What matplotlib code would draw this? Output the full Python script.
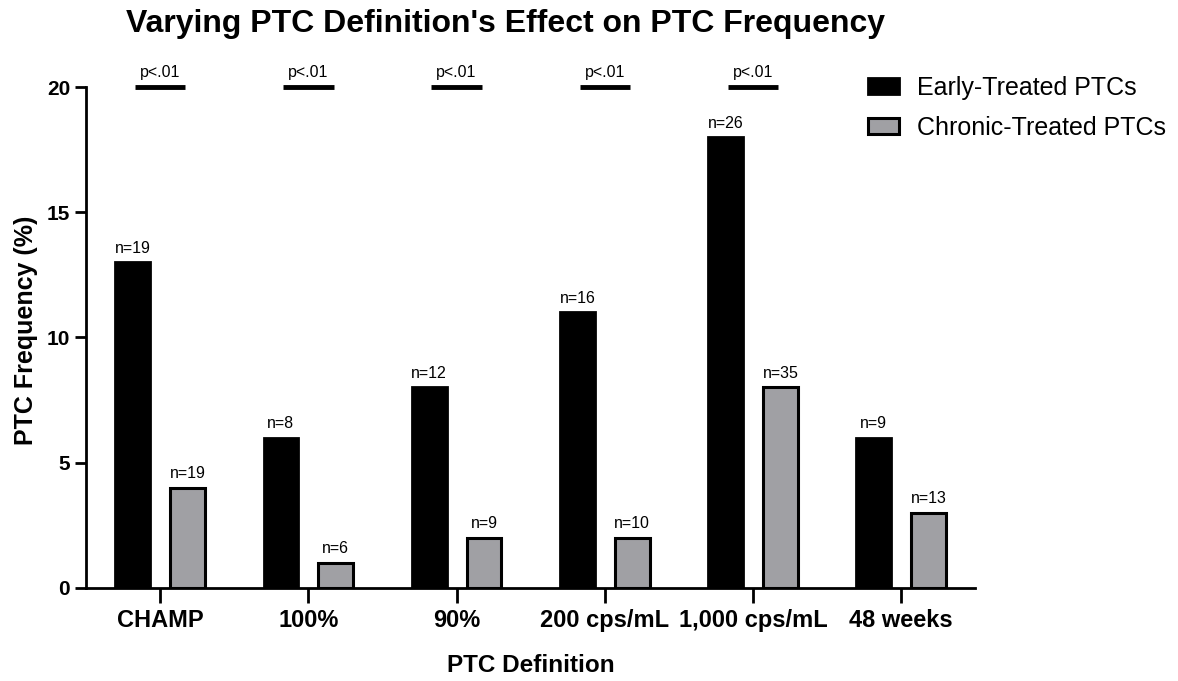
import numpy as np
import matplotlib.pyplot as plt

plt.rcParams['font.family'] = ['Liberation Sans', 'DejaVu Sans']

categories = ['CHAMP', '100%', '90%', '200 cps/mL', '1,000 cps/mL', '48 weeks']
early = [13, 6, 8, 11, 18, 6]
chronic = [4, 1, 2, 2, 8, 3]
early_n = [19, 8, 12, 16, 26, 9]
chronic_n = [19, 6, 9, 10, 35, 13]
p_labels = ['p<.01', 'p<.01', 'p<.01', 'p<.01', 'p<.01', '']

x = np.arange(len(categories))
w = 0.235
off = 0.185

fig = plt.figure(figsize=(11.78, 6.81), dpi=100)
ax = fig.add_axes([0.073, 0.137, 0.755, 0.735])

ax.bar(x - off, early, w, color='black', edgecolor='black', linewidth=2,
       label='Early-Treated PTCs')
ax.bar(x + off, chronic, w, color='#a0a0a4', edgecolor='black', linewidth=2.2,
       label='Chronic-Treated PTCs')

for i in range(len(x)):
    ax.text(x[i] - off, early[i] + 0.25, 'n=%d' % early_n[i], ha='center', va='bottom', fontsize=11.5)
    ax.text(x[i] + off, chronic[i] + 0.25, 'n=%d' % chronic_n[i], ha='center', va='bottom', fontsize=11.5)
    if p_labels[i]:
        ax.plot([x[i] - 0.17, x[i] + 0.17], [20, 20], color='black', lw=3.5,
                clip_on=False, solid_capstyle='butt')
        ax.text(x[i], 20.3, p_labels[i], ha='center', va='bottom', fontsize=11.5)

ax.set_xlim(-0.5, 5.5)
ax.set_ylim(0, 20)
ax.set_yticks([0, 5, 10, 15, 20])
ax.set_xticks(x)
ax.set_xticklabels(categories, fontsize=17, fontweight='bold')
for lab in ax.get_yticklabels():
    lab.set_fontweight('bold')
    lab.set_fontsize(15)
ax.tick_params(axis='y', length=8, width=2)
ax.tick_params(axis='x', length=11, width=2, pad=4)

ax.spines['top'].set_visible(False)
ax.spines['right'].set_visible(False)
ax.spines['left'].set_linewidth(2)
ax.spines['bottom'].set_linewidth(2)

ax.set_xlabel('PTC Definition', fontsize=17.5, fontweight='bold', labelpad=16)
ax.set_ylabel('PTC Frequency (%)', fontsize=18, fontweight='bold')
ax.yaxis.set_label_coords(-0.054, 0.515)
fig.text(506 / 1178, 1 - 24 / 681, "Varying PTC Definition's Effect on PTC Frequency",
         fontsize=23, fontweight='bold', ha='center', va='center')

ax.legend(loc='upper left', bbox_to_anchor=(0.854, 1.068), frameon=False, fontsize=18,
          handlelength=1.25, handleheight=0.65, handletextpad=0.7, labelspacing=0.65)

fig.savefig('out.png', dpi=100)
